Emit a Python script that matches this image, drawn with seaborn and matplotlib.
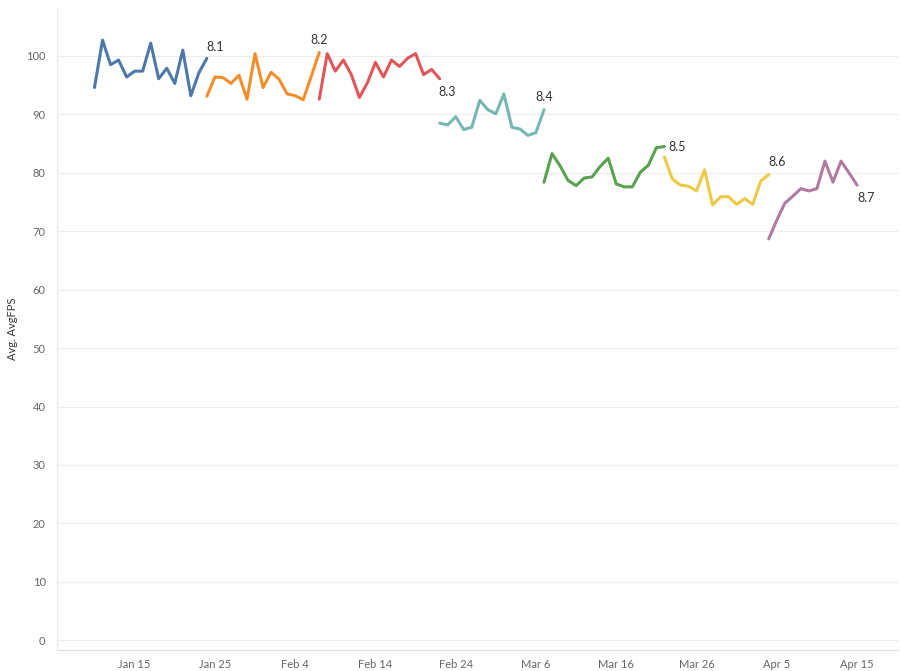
import pandas as pd
import numpy as np
import matplotlib
matplotlib.use('Agg')
import matplotlib.pyplot as plt
import matplotlib.dates as mdates
import seaborn as sns

# daily average FPS per release
versions = ['8.1', '8.2', '8.3', '8.4', '8.5', '8.6', '8.7']
start_dates = ['2018-01-10', '2018-01-24', '2018-02-07', '2018-02-22',
               '2018-03-07', '2018-03-22', '2018-04-04']
fps_81 = [94.6, 102.7, 98.5, 99.3, 96.4, 97.4, 97.4, 102.2, 96.1, 97.9, 95.3, 101.0, 93.2, 97.1, 99.6]
fps_82 = [93.1, 96.4, 96.3, 95.3, 96.7, 92.6, 100.4, 94.6, 97.2, 96.0, 93.5, 93.2, 92.5, 96.5, 100.6]
fps_83 = [92.6, 100.4, 97.4, 99.3, 96.8, 92.9, 95.4, 98.9, 96.4, 99.3, 98.2, 99.6, 100.4, 96.8, 97.7, 96.1]
fps_84 = [88.5, 88.2, 89.6, 87.4, 87.8, 92.4, 90.8, 90.1, 93.5, 87.8, 87.5, 86.4, 86.9, 90.8]
fps_85 = [78.4, 83.3, 81.2, 78.7, 77.8, 79.1, 79.3, 81.1, 82.5, 78.1, 77.6, 77.6, 80.1, 81.3, 84.3, 84.5]
fps_86 = [82.7, 78.9, 77.9, 77.7, 76.9, 80.5, 74.5, 75.9, 75.9, 74.6, 75.6, 74.6, 78.6, 79.7]
fps_87 = [68.7, 71.9, 74.8, 76.0, 77.3, 76.9, 77.3, 82.0, 78.4, 82.0, 80.0, 77.9]
series = [fps_81, fps_82, fps_83, fps_84, fps_85, fps_86, fps_87]

colors = ['#4e79a7', '#f28e2b', '#e15759', '#76b7b2', '#59a14f', '#edc948', '#b07aa1']

frames = []
for v, d0, vals in zip(versions, start_dates, series):
    frames.append(pd.DataFrame({
        'Date': pd.date_range(d0, periods=len(vals), freq='D'),
        'Avg. AvgFPS': vals,
        'Version': v,
    }))
df = pd.concat(frames, ignore_index=True)

sns.set_style('white')
plt.rcParams['font.family'] = ['Lato', 'DejaVu Sans']

fig = plt.figure(figsize=(9, 6.71), dpi=100)
ax = fig.add_axes([0.063, 0.031, 0.935, 0.957])

sns.lineplot(data=df, x='Date', y='Avg. AvgFPS', hue='Version',
             palette=dict(zip(versions, colors)), linewidth=2.2,
             legend=False, ax=ax, estimator=None)

# version labels at the end of each line (offsets in points)
offsets = {'8.1': (0, 4, 'left', 'bottom'), '8.2': (0, 5, 'center', 'bottom'),
           '8.3': (-1, -5, 'left', 'top'), '8.4': (0, 5, 'center', 'bottom'),
           '8.5': (3, 0, 'left', 'center'), '8.6': (0, 5, 'left', 'bottom'),
           '8.7': (0, -5, 'left', 'top')}
for v in versions:
    last = df[df['Version'] == v].iloc[-1]
    dx, dy, ha, va = offsets[v]
    ax.annotate(v, (mdates.date2num(last['Date']), last['Avg. AvgFPS']),
                xytext=(dx, dy), textcoords='offset points',
                ha=ha, va=va, fontsize=9, color='#333333')

ax.set_ylim(-1.7, 108.2)
ax.set_xlim(pd.Timestamp('2018-01-05 07:00'), pd.Timestamp('2018-04-20 03:00'))
ax.set_yticks(np.arange(0, 101, 10))
ticks = pd.date_range('2018-01-15', periods=10, freq='10D')
ax.set_xticks(ticks)
ax.set_xticklabels([t.strftime('%b ') + str(t.day) for t in ticks])

ax.yaxis.grid(True, color='#ececec', linewidth=0.8)
ax.xaxis.grid(False)
for s in ['top', 'right']:
    ax.spines[s].set_visible(False)
ax.spines['left'].set_color('#ececec')
ax.spines['bottom'].set_color('#e0e0e0')
ax.tick_params(axis='y', length=0, labelsize=8, labelcolor='#666666', pad=8)
ax.tick_params(axis='x', length=4, color='#dddddd', labelsize=8, labelcolor='#666666', pad=2)
ax.set_xlabel('')
ax.set_ylabel('Avg. AvgFPS', fontsize=8, color='#333333', labelpad=6)

fig.savefig('out.png', dpi=100)
